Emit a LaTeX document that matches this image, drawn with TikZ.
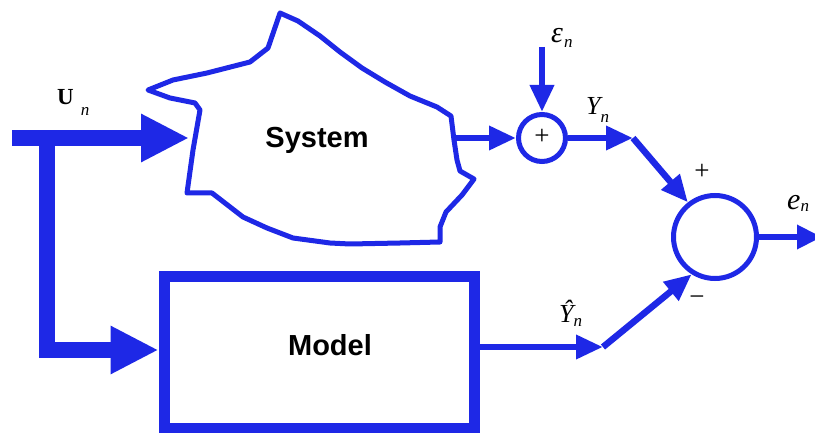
\documentclass[tikz,border=0pt]{standalone}
\usepackage{fontspec}
\setmainfont{Liberation Serif}
\newfontfamily\blockfont{Liberation Sans}
\usetikzlibrary{arrows.meta}
\definecolor{sigblue}{RGB}{30,40,230}
% subscript n set low beside a symbol
\newcommand\lowsub[1]{\raisebox{-#1}{\fontsize{17}{17}\selectfont\itshape n}}
\tikzset{
  wire/.style={draw=sigblue, line width=6.5pt},
  bigwire/.style={draw=sigblue, line width=16.5pt},
  tipsmall/.style={-{Triangle[length=27pt,width=23pt]}},
  tipbig/.style={-{Triangle[length=48pt,width=45pt]}},
  blocklabel/.style={font=\blockfont\bfseries\fontsize{29}{34}\selectfont, text=black, inner sep=0pt, anchor=base},
  sig/.style={inner sep=0pt, anchor=base west, text=black},
  signlabel/.style={inner sep=0pt, text=black, font=\fontsize{27}{27}\selectfont},
  junction/.style={circle, draw=sigblue, line width=5pt, inner sep=0pt},
}
\begin{document}
\begin{tikzpicture}[x=1pt,y=-1pt]
\clip (0,0) rectangle (815,433);
\fill[white] (0,0) rectangle (815,433);

% the unknown system, drawn as an irregular outline
\draw[sigblue, line width=5pt, line join=round]
  (280,13) -- (298,21) -- (320,36) -- (340,52) -- (362,68) -- (385,82)
  -- (410,96) -- (437,107) -- (451,116) -- (454,140) -- (457,160)
  -- (460,171) -- (474,179) -- (462,195) -- (446,212) -- (440,227)
  -- (440,242) -- (400,243) -- (350,244) -- (330,243) -- (293,238)
  -- (267,228) -- (243,217) -- (212,193) -- (187,193) -- (193,150)
  -- (200,110) -- (195,103) -- (170,98) -- (148,90) -- (173,80)
  -- (207,73) -- (250,62) -- (268,48) -- cycle;
\node[blocklabel] (systxt) at (317,148) {System};
\coordinate (sysin) at (189,138);
\coordinate (sysout) at (453,138);

% model block
\node[draw=sigblue, line width=11pt, minimum width=310pt, minimum height=151pt, inner sep=0pt] (model) at (319,352.5) {};
\node[blocklabel] (modeltxt) at (330,355) {Model};

% summing junction and comparator
\node[junction, minimum size=47pt] (sum) at (542,138) {};
\node[signlabel] (sumplus) at (542,137) {+};
\node[junction, minimum size=83pt] (cmp) at (715,237) {};
\node[signlabel] (cmpplus) at (702,172) {+};
\node[signlabel] (cmpminus) at (697,301) {−};

% input and its branch to the model
\coordinate (uin) at (12,138);
\coordinate (split) at (47,138);
\coordinate (bend) at (47,350);
\draw[bigwire, tipbig] (uin) -- (sysin);
\draw[bigwire, tipbig] (split) -- (bend) -- (bend -| model.west);

% noise entering the summing junction
\coordinate (epstop) at (542,47);
\draw[wire, tipsmall] (epstop) -- (sum.north);

% system output through the noise junction
\draw[wire, tipsmall] (sysout) -- (sum.west);
\coordinate (ycorner) at (633,138);
\draw[wire, tipsmall] (sum.east) -- (ycorner);
\draw[wire, tipsmall] (ycorner) -- (cmp.128);

% model output
\coordinate (yhcorner) at (603,347);
\draw[wire, tipsmall] (yhcorner -| model.east) -- (yhcorner);
\draw[wire, tipsmall] (yhcorner) -- (cmp.238);

% error output
\coordinate (eout) at (822,237);
\draw[wire, -{Triangle[length=25pt,width=23pt]}] (cmp.east) -- (eout);

% signal labels
\node[sig, font=\fontsize{23}{23}\selectfont] (ulab) at (57,105) {\textbf{U}\kern7pt\lowsub{11pt}};
\node[sig, font=\fontsize{30}{30}\selectfont] (epslab) at (551,43) {\itshape ε\kern1pt\lowsub{5pt}};
\node[sig, font=\fontsize{26}{26}\selectfont] (ylab) at (586,115) {\itshape Y\kern0pt\lowsub{8pt}};
\node[sig, font=\fontsize{26}{26}\selectfont] (yhlab) at (559,323) {\itshape Ŷ\kern0pt\lowsub{4pt}};
\node[sig, font=\fontsize{30}{30}\selectfont] (elab) at (787,210) {\itshape e\kern0pt\lowsub{2pt}};
\end{tikzpicture}
\end{document}
